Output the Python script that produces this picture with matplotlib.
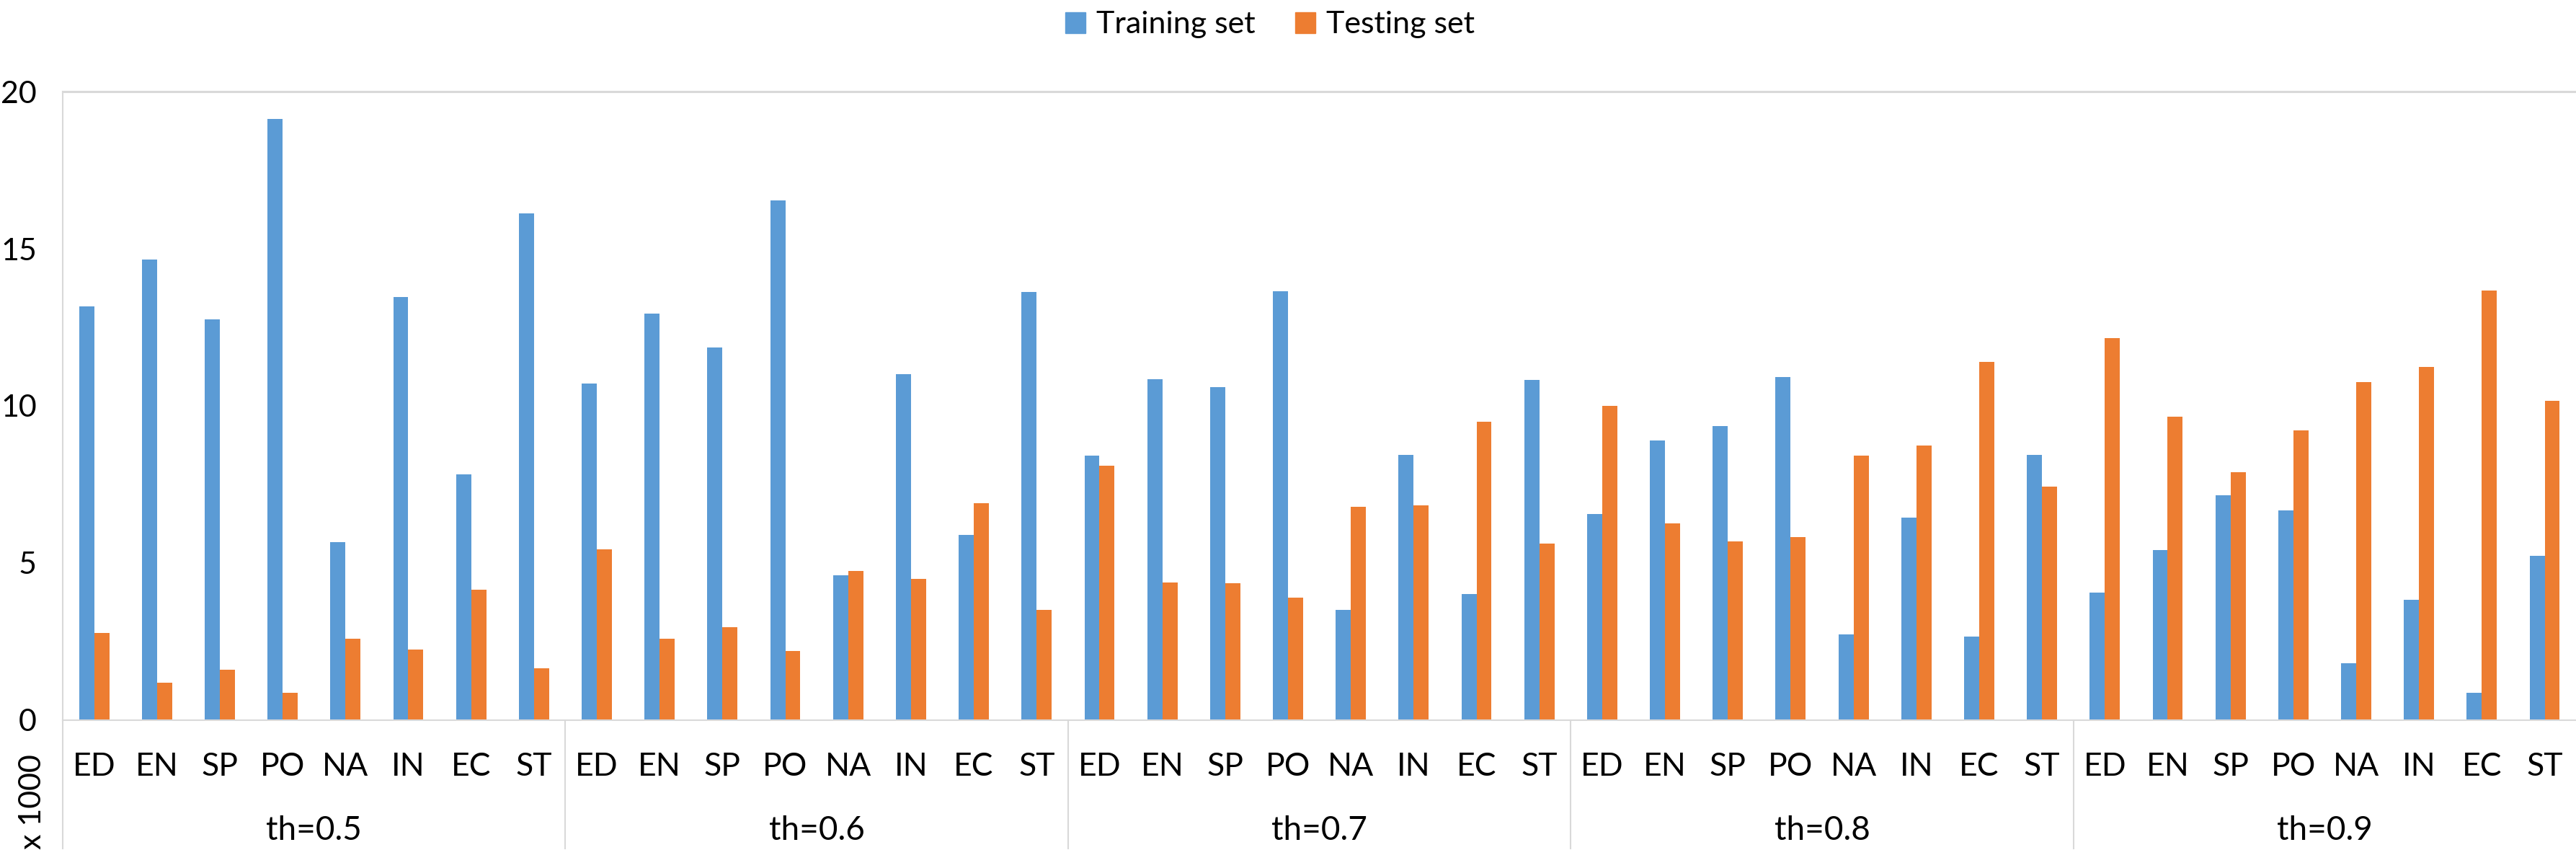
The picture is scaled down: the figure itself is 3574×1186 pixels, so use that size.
import numpy as np
import matplotlib
matplotlib.use("Agg")
import matplotlib.pyplot as plt
from matplotlib.patches import Patch

plt.rcParams['font.family'] = ['Lato', 'DejaVu Sans']

## Daten (x 1000)
groups = ['th=0.5', 'th=0.6', 'th=0.7', 'th=0.8', 'th=0.9']
cats = ['ED', 'EN', 'SP', 'PO', 'NA', 'IN', 'EC', 'ST']

train = [
    [13.16, 14.65, 12.75, 19.14, 5.66, 13.46, 7.81, 16.12],   # th=0.5
    [10.72, 12.94, 11.85, 16.53, 4.60, 11.00, 5.90, 13.62],   # th=0.6
    [8.41, 10.86, 10.59, 13.65, 3.52, 8.45, 4.01, 10.82],     # th=0.7
    [6.57, 8.90, 9.35, 10.91, 2.74, 6.44, 2.66, 8.45],        # th=0.8
    [4.06, 5.41, 7.15, 6.67, 1.80, 3.82, 0.88, 5.22],         # th=0.9
]
test = [
    [2.78, 1.20, 1.60, 0.87, 2.60, 2.25, 4.15, 1.65],
    [5.43, 2.60, 2.95, 2.20, 4.75, 4.50, 6.90, 3.50],
    [8.09, 4.37, 4.35, 3.91, 6.78, 6.83, 9.49, 5.61],
    [9.99, 6.25, 5.69, 5.82, 8.41, 8.73, 11.40, 7.42],
    [12.16, 9.65, 7.90, 9.21, 10.75, 11.23, 13.67, 10.16],
]

c_train = '#5B9BD5'
c_test = '#ED7D31'
c_grid = '#D9D9D9'

## Plotten
fig = plt.figure(figsize=(35.74, 11.86), dpi=100)
ax = fig.add_axes([0.02434, 0.1577, 0.9757, 0.7352])

x = np.arange(len(groups) * len(cats))
y_train = np.array(train).ravel()
y_test = np.array(test).ravel()
bw = 0.24

ax.bar(x - bw / 2, y_train, bw, color=c_train, label='Training set')
ax.bar(x + bw / 2, y_test, bw, color=c_test, label='Testing set')

ax.set_xlim(-0.5, len(x) - 0.5)
ax.set_ylim(0, 20)
ax.set_yticks([0, 5, 10, 15, 20])
ax.tick_params(axis='y', length=0, pad=26, labelsize=31)
ax.set_xticks([])

for s in ['top', 'right']:
    ax.spines[s].set_visible(False)
ax.spines['left'].set_color(c_grid)
ax.spines['left'].set_linewidth(1.5)
ax.spines['bottom'].set_color(c_grid)
ax.spines['bottom'].set_linewidth(1.5)
ax.axhline(20, color=c_grid, lw=2.2, clip_on=False)

trans = ax.get_xaxis_transform()
labels = cats * len(groups)
for xi, lab in zip(x, labels):
    ax.text(xi, -0.0885, lab, transform=trans, ha='center', va='baseline', fontsize=32)

n = len(cats)
for gi, g in enumerate(groups):
    xc = gi * n + (n - 1) / 2
    ax.text(xc, -0.19, g, transform=trans, ha='center', va='baseline', fontsize=33)
    ax.plot([gi * n - 0.5, gi * n - 0.5], [0, -0.204], transform=trans,
            color=c_grid, lw=1.5, clip_on=False)

fig.text(0.0125, 0.062, 'x 1000', rotation=90, ha='center', va='center', fontsize=31)

handles = [Patch(color=c_train), Patch(color=c_test)]
fig.legend(handles, ['Training set', 'Testing set'], loc='center', bbox_to_anchor=(0.493, 0.971),
           ncol=2, frameon=False, fontsize=31, handlelength=0.65, handleheight=0.65,
           handletextpad=0.35, columnspacing=1.3)

fig.savefig('out.png', dpi=100)
